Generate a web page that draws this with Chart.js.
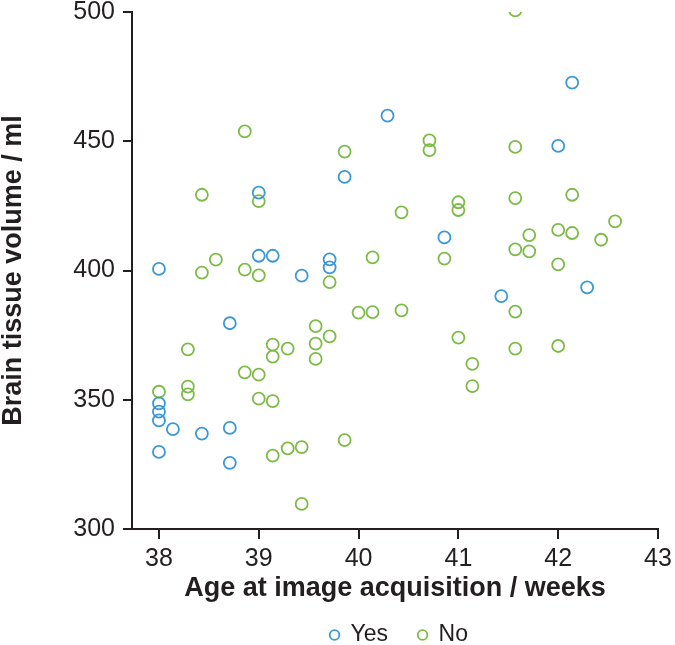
<!DOCTYPE html>
<html>
<head>
<meta charset="utf-8">
<script src="https://cdn.jsdelivr.net/npm/chart.js@4/dist/chart.umd.min.js"></script>
<style>
  html, body { margin: 0; padding: 0; background: #fff; }
  canvas { display: block; }
</style>
</head>
<body>
<canvas id="brainChart" width="675" height="645"></canvas>
<script>
// Age at image acquisition (weeks) and brain tissue volume (ml)
const yesAge = [40.29, 39.86, 39.00, 39.00, 39.14, 38.00, 39.43, 39.71, 39.71, 42.14, 42.00, 40.86,
  42.29, 41.43, 38.71, 38.00, 38.00, 38.00, 38.14, 38.43, 38.71, 38.00, 38.71];
const yesVolume = [459.9, 436.2, 430.1, 405.7, 405.7, 400.6, 398.0, 404.3, 401.2, 472.7, 448.2, 412.8,
  393.5, 390.1, 379.6, 348.6, 345.4, 342.0, 338.6, 336.9, 339.1, 329.8, 325.6];

const noAge = [41.57, 38.86, 39.86, 38.43, 39.00, 40.43, 38.57, 38.43, 38.86, 39.00, 39.71, 40.14,
  40.71, 40.71, 41.57, 41.57, 42.14, 41.00, 41.00, 42.57, 41.71, 42.00, 42.14, 42.43, 41.57, 41.71,
  40.86, 42.00, 40.43, 41.57, 41.00, 41.57, 42.00, 41.14, 41.14, 40.00, 40.14, 39.57, 39.71, 39.57,
  39.57, 38.29, 39.14, 39.14, 39.29, 38.86, 39.00, 38.00, 38.29, 38.29, 39.00, 39.14, 39.86, 39.14,
  39.29, 39.43, 39.43];
const noVolume = [500.6, 453.8, 446.0, 429.3, 426.8, 422.5, 404.2, 399.2, 400.3, 398.1, 395.5, 405.1,
  450.3, 446.6, 447.8, 428.0, 429.3, 426.4, 423.4, 419.0, 413.7, 415.7, 414.5, 411.9, 408.2, 407.4,
  404.6, 402.4, 384.6, 384.1, 374.0, 369.8, 370.8, 363.9, 355.3, 383.7, 383.9, 378.5, 374.5, 371.7,
  365.8, 369.5, 371.3, 366.7, 369.8, 360.6, 359.7, 353.1, 355.1, 352.1, 350.4, 349.5, 334.4, 328.4,
  331.2, 331.7, 309.7];

const groups = ['Yes', 'No'];
const groupColors = ['#3a98d6', '#7bbb46'];
const xTickRange = [38, 43];
const yTickRange = [300, 500];

const ink = '#231f20';
const fontFamily = '"Liberation Sans", Arial, Helvetica, sans-serif';

function toPoints(xs, ys) {
  return xs.map(function(x, i) { return { x: x, y: ys[i] }; });
}

const datasets = [
  { label: groups[0], data: toPoints(yesAge, yesVolume), borderColor: groupColors[0] },
  { label: groups[1], data: toPoints(noAge, noVolume), borderColor: groupColors[1] }
].map(function(ds) {
  ds.backgroundColor = 'rgba(0,0,0,0)';
  ds.pointRadius = 6;
  ds.pointHoverRadius = 6;
  ds.pointBorderWidth = 1.8;
  return ds;
});

// legend drawn under the axis title, "o Yes  o No"
const bottomLegend = {
  id: 'bottomLegend',
  afterDraw: function(chart) {
    const ctx = chart.ctx;
    const box = 9, gap = 30, fontSize = 23;
    ctx.save();
    ctx.font = fontSize + 'px ' + fontFamily;
    ctx.textBaseline = 'middle';
    const items = chart.data.datasets.map(function(ds) {
      return { text: ds.label, color: ds.borderColor, w: box + fontSize / 2 + ctx.measureText(ds.label).width };
    });
    const total = items.reduce(function(s, it) { return s + it.w; }, 0) + gap * (items.length - 1);
    let x = 399 - total / 2;
    const y = 635;
    items.forEach(function(it) {
      ctx.beginPath();
      ctx.arc(x + box / 2, y, 4.8, 0, Math.PI * 2);
      ctx.lineWidth = 1.8;
      ctx.strokeStyle = it.color;
      ctx.stroke();
      ctx.fillStyle = ink;
      ctx.fillText(it.text, x + box + fontSize / 2, y);
      x += it.w + gap;
    });
    ctx.restore();
  }
};

const ctx = document.getElementById('brainChart').getContext('2d');
const chart = new Chart(ctx, {
  type: 'scatter',
  data: { datasets: datasets },
  plugins: [bottomLegend],
  options: {
    responsive: false,
    animation: false,
    devicePixelRatio: 1,
    layout: { padding: { top: 12, right: 17, left: 0, bottom: 0 } },
    plugins: {
      legend: { display: false },
      tooltip: { enabled: false }
    },
    scales: {
      x: {
        type: 'linear',
        min: 37.73,
        max: xTickRange[1],
        afterFit: function(scale) { scale.height = 116; },
        ticks: {
          stepSize: 1,
          includeBounds: false,
          padding: 0,
          color: ink,
          font: { family: fontFamily, size: 25, lineHeight: 1.6 }
        },
        grid: {
          drawOnChartArea: false,
          drawTicks: true,
          tickLength: 10,
          color: ink,
          lineWidth: 2
        },
        border: { display: true, color: ink, width: 2 },
        title: {
          display: true,
          text: 'Age at image acquisition / weeks',
          color: ink,
          font: { family: fontFamily, size: 27, weight: 'bold', lineHeight: 1 },
          padding: { top: 0, bottom: 43 }
        }
      },
      y: {
        type: 'linear',
        min: yTickRange[0],
        max: yTickRange[1],
        afterFit: function(scale) { scale.width = 132; },
        ticks: {
          stepSize: 50,
          padding: 8,
          color: ink,
          font: { family: fontFamily, size: 25, lineHeight: 0.3 }
        },
        grid: {
          drawOnChartArea: false,
          drawTicks: true,
          tickLength: 9,
          color: ink,
          lineWidth: 2
        },
        border: { display: true, color: ink, width: 2 },
        title: {
          display: true,
          text: 'Brain tissue volume / ml',
          color: ink,
          font: { family: fontFamily, size: 27, weight: 'bold', lineHeight: 1 },
          padding: { top: 0, bottom: 0 }
        }
      }
    }
  }
});
</script>
</body>
</html>
